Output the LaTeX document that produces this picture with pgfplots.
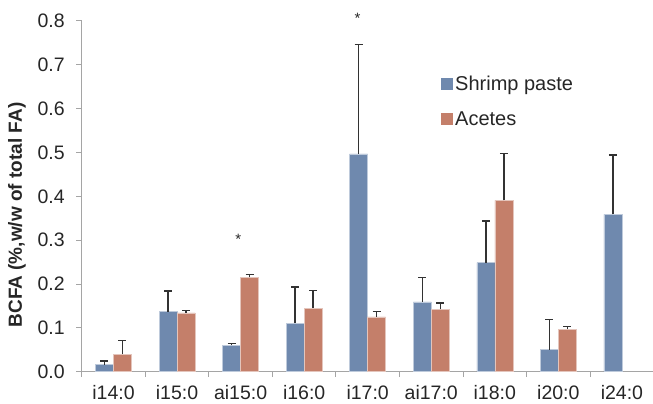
\documentclass[border=0pt]{standalone}
\usepackage{pgfplots}
\pgfplotsset{compat=1.18}
\usepackage{pgfplotstable}
\usepackage{fontspec}
\setmainfont{Liberation Sans}
\definecolor{bblue}{RGB}{111,137,174}
\definecolor{borange}{RGB}{196,127,106}
\definecolor{axgray}{RGB}{165,165,165}
\definecolor{errc}{RGB}{50,50,50}

\pgfplotstableread{
x y e
0 0.016 0.008
1 0.137 0.047
2 0.060 0.005
3 0.110 0.083
4 0.497 0.250
5 0.159 0.056
6 0.249 0.095
7 0.050 0.069
8 0.359 0.135
}\shrimp

\pgfplotstableread{
x y e
0 0.040 0.031
1 0.134 0.006
2 0.215 0.007
3 0.145 0.040
4 0.125 0.012
5 0.142 0.015
6 0.391 0.107
7 0.097 0.006
}\acetes

\begin{document}
\begin{tikzpicture}[x=1pt,y=1pt]
\path[use as bounding box] (0,0) rectangle (653,404);
\begin{axis}[
  at={(81.7pt,32.3pt)}, anchor=south west,
  scale only axis, width=572pt, height=350.7pt,
  xmin=-0.5, xmax=8.5, ymin=0, ymax=0.8,
  axis lines*=left,
  axis line style={draw=axgray, line width=1pt},
  xtick={-0.5,0.5,1.5,2.5,3.5,4.5,5.5,6.5,7.5,8.5},
  x tick label as interval,
  xticklabels={i14:0,i15:0,ai15:0,i16:0,i17:0,ai17:0,i18:0,i20:0,i24:0},
  ytick={0,0.1,0.2,0.3,0.4,0.5,0.6,0.7,0.8},
  yticklabel style={/pgf/number format/fixed, /pgf/number format/fixed zerofill, /pgf/number format/precision=1, xshift=-8pt},
  /pgf/number format/assume math mode=true,
  tick align=outside, major tick length=5.5pt,
  tick style={draw=axgray, line width=1pt},
  ticklabel style={font=\fontsize{19.5}{22}\selectfont, text=black!85},
  xticklabel style={yshift=-6.5pt, inner sep=1pt},
  ylabel={BCFA (\%,w/w of total FA)},
  ylabel style={at={(axis description cs:-0.113,0.447)}, anchor=center, font=\fontsize{19}{22}\selectfont\bfseries, text=black!85},
  clip=false,
  legend style={at={(rel axis cs:0.628,0.852)}, anchor=north west, draw=none, fill=none,
    font=\fontsize{20}{22}\selectfont, text=black!85, row sep=15pt, inner sep=0pt,
    nodes={inner sep=2.5pt}},
  legend cell align=left,
]
\addplot[ybar, bar width=18pt, bar shift=0pt, fill=bblue, draw=white!55!bblue, line width=0.6pt,
  legend image code/.code={\fill[bblue] (0pt,-5.5pt) rectangle (11pt,5.5pt);},
  error bars/.cd, y dir=plus, y explicit, error mark=-,
  error bar style={line width=1.4pt, draw=errc},
  error mark options={rotate=90, line width=1.4pt, draw=errc, mark size=4pt}]
  table[x expr=\thisrow{x}-0.1416, y=y, y error=e] {\shrimp};
\addlegendentry{Shrimp paste}
\addplot[ybar, bar width=18pt, bar shift=0pt, fill=borange, draw=white!55!borange, line width=0.6pt,
  legend image code/.code={\fill[borange] (0pt,-5.5pt) rectangle (11pt,5.5pt);},
  error bars/.cd, y dir=plus, y explicit, error mark=-,
  error bar style={line width=1.4pt, draw=errc},
  error mark options={rotate=90, line width=1.4pt, draw=errc, mark size=4pt}]
  table[x expr=\thisrow{x}+0.1416, y=y, y error=e] {\acetes};
\addlegendentry{Acetes}
\node[anchor=base, font=\fontsize{15}{15}\selectfont, text=black!85] at (axis cs:1.964,0.290) {*};
\node[anchor=base, font=\fontsize{15}{15}\selectfont, text=black!85] at (axis cs:3.842,0.795) {*};
\end{axis}
\end{tikzpicture}
\end{document}
